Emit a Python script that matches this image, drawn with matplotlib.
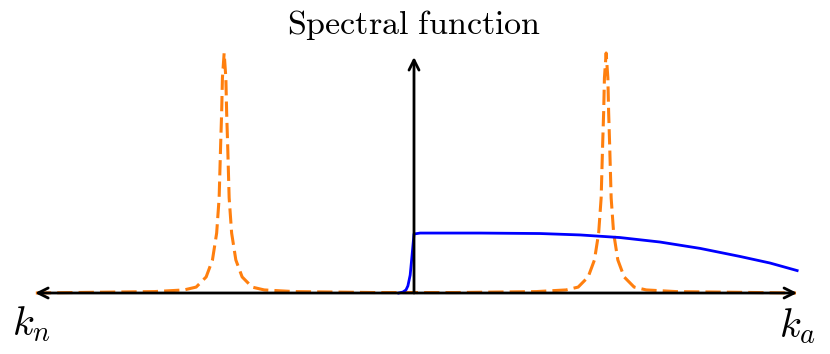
import matplotlib
matplotlib.use("Agg")
import numpy as np
from matplotlib import pyplot as plt

plt.rcParams['mathtext.fontset'] = 'cm'

# momentum axis runs from k_n (-1) to k_a (+1), vertical axis at k = 0
peak_centers = [-0.497, 0.503]
# half profile of one orange peak: offset from centre -> height
peak_offsets = [0.0, 0.0045, 0.0065, 0.0092, 0.0131, 0.0196, 0.0306, 0.0471, 0.0733, 0.105, 0.183, 0.393]
peak_heights = [1.017, 0.911, 0.767, 0.627, 0.403, 0.254, 0.140, 0.068, 0.025, 0.013, 0.006, 0.002]

# blue curve
blue_k = [-0.04, -0.029, -0.021, -0.016, -0.010, -0.005, 0.0, 0.016, 0.173, 0.330,
          0.435, 0.539, 0.644, 0.749, 0.853, 0.932, 1.003]
blue_a = [0.0, 0.004, 0.013, 0.030, 0.076, 0.161, 0.250, 0.254, 0.254, 0.252,
          0.246, 0.235, 0.216, 0.189, 0.155, 0.127, 0.095]

title = r'$\mathrm{Spectral\ function}$'
left_label = r'$k_n$'
right_label = r'$k_a$'

fig = plt.figure(figsize=(8.3, 3.54), dpi=100)
ax = fig.add_axes([0, 0, 1, 1])
ax.set_xlim(-414 / 382, 416 / 382)
ax.set_ylim(-61 / 236, 293 / 236)
ax.axis('off')

# orange dashed peaks, built from the half profile
ok = []
oa = []
for c in peak_centers:
    for d, h in zip(peak_offsets[::-1], peak_heights[::-1]):
        ok.append(c - d)
        oa.append(h)
    for d, h in zip(peak_offsets[1:], peak_heights[1:]):
        ok.append(c + d)
        oa.append(h)
ok = [-0.99] + ok + [1.0]
oa = [0.0] + oa + [0.0]
ax.plot(ok, oa, color='#ff7f0e', lw=2.2, dashes=(5, 2), zorder=2)

ax.plot(blue_k, blue_a, color='#0000ff', lw=2, zorder=3)

# axes arrows
ax.annotate('', xy=(1.003, 0), xytext=(-0.992, 0),
            arrowprops=dict(arrowstyle='<->', lw=2, color='black',
                            shrinkA=0, shrinkB=0, mutation_scale=18), zorder=4)
ax.annotate('', xy=(0, 1.0), xytext=(0, 0),
            arrowprops=dict(arrowstyle='->', lw=2, color='black',
                            shrinkA=0, shrinkB=0, mutation_scale=18), zorder=4)

ax.text(0.0, 1.135, title, ha='center', va='center', fontsize=24.5)
ax.text(-1.0, -0.13, left_label, ha='center', va='center', fontsize=29)
ax.text(1.005, -0.14, right_label, ha='center', va='center', fontsize=29)

fig.savefig('out.png', dpi=100)
